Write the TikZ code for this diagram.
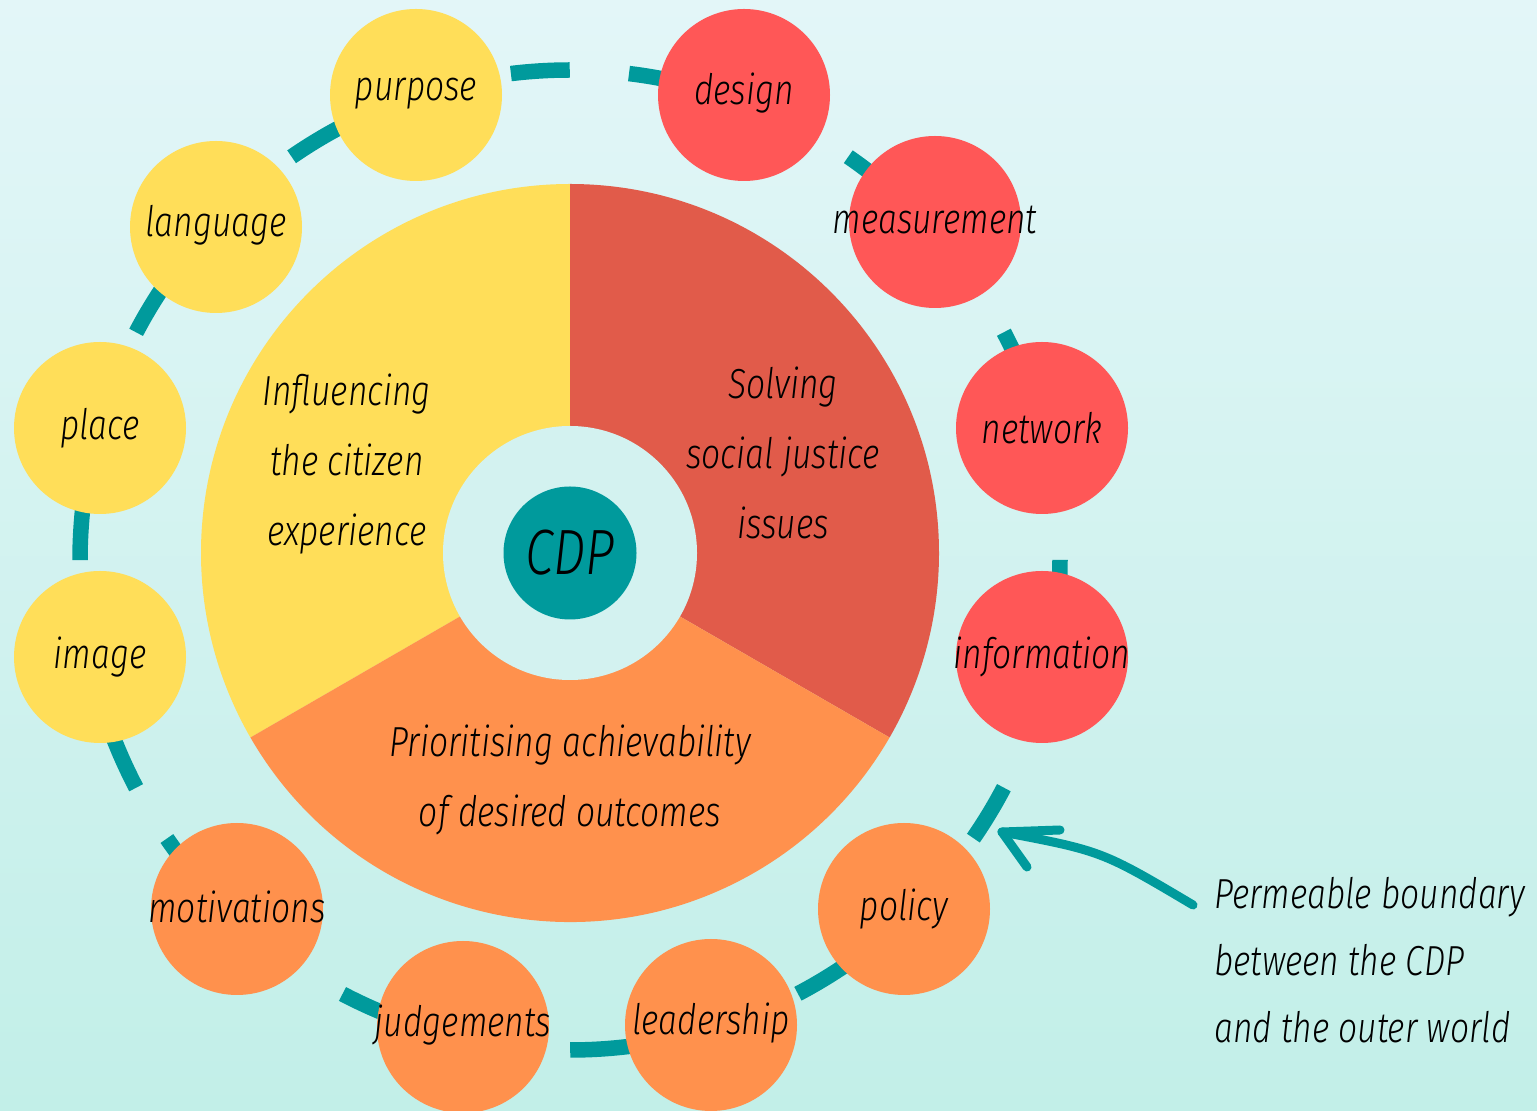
\documentclass[tikz,border=0pt]{standalone}
\usepackage{fontspec}
\IfFontExistsTF{Fira Sans Light}{\setmainfont{Fira Sans Light}[FakeStretch=0.8]}{\setmainfont{Fira Sans}[FakeStretch=0.8]}
\usetikzlibrary{calc}
\definecolor{cyel}{HTML}{FFDE59}
\definecolor{cred}{HTML}{FF5757}
\definecolor{cpie}{HTML}{E15B4A}
\definecolor{corg}{HTML}{FF914D}
\definecolor{cteal}{HTML}{009A9C}
\definecolor{cin}{HTML}{D3F2F0}
\definecolor{bgtop}{HTML}{E3F6F8}
\definecolor{bgbot}{HTML}{C2EFE8}
\newcommand\handfont{\fontsize{42}{70}\selectfont\itshape}
\newcommand\notefont{\fontsize{42}{67}\selectfont\itshape}
\begin{document}
\begin{tikzpicture}[x=1pt,y=1pt,
  bub/.style={circle,minimum size=172pt,inner sep=0pt},
  lbl/.style={font=\handfont,text=black,inner sep=0pt},
  ptext/.style={font=\handfont,align=center,text=black,inner sep=0pt},
  ringseg/.style={draw=cteal,line width=15.5pt,line cap=butt},
  arrowline/.style={draw=cteal,line width=9pt,line cap=round,line join=round}]
\useasboundingbox (0,0) rectangle (1537,1111);
\shade[top color=bgtop,bottom color=bgbot] (0,0) rectangle (1537,1111);
% dashed ring
\coordinate (rc) at (570,551);
\foreach \k in {0,...,25}{%
  \pgfmathsetmacro\sa{20.8+13.846*\k}%
  \pgfmathsetmacro\ea{\sa+6.9}%
  \draw[ringseg] ([shift={(\sa:490)}]rc) arc[start angle=\sa,end angle=\ea,radius=490];
}
% pie
\coordinate (pc) at (570,558);
\fill[cyel] (pc) -- ++(90:369) arc[start angle=90,end angle=210,radius=369] -- cycle;
\fill[cpie] (pc) -- ++(90:369) arc[start angle=90,end angle=-30,radius=369] -- cycle;
\fill[corg] (pc) -- ++(210:369) arc[start angle=210,end angle=330,radius=369] -- cycle;
\node[circle,fill=cin,minimum size=254pt,inner sep=0pt] (inner) at (pc) {};
\node[circle,fill=cteal,minimum size=133pt,inner sep=0pt,text=black,font=\fontsize{64}{70}\selectfont\itshape] (cdp) at (pc) {CDP};
\node[ptext] (infl) at (347,647) {Influencing\\the citizen\\experience};
\node[ptext] (solv) at (783,658) {Solving\\social justice\\issues};
\node[ptext] (prio) at (570,331) {Prioritising achievability\\of desired outcomes};
% bubbles
\node[bub,fill=cyel] (purpose) at (416,1016) {};
\node[bub,fill=cred] (design) at (744,1016) {};
\node[bub,fill=cyel] (language) at (216,884) {};
\node[bub,fill=cred] (measurement) at (935,889) {};
\node[bub,fill=cyel] (place) at (100,683) {};
\node[bub,fill=cred] (network) at (1042,683) {};
\node[bub,fill=cyel] (image) at (100,454) {};
\node[bub,fill=cred] (information) at (1042,454) {};
\node[bub,fill=corg] (motivations) at (237,202) {};
\node[bub,fill=corg] (policy) at (904,202) {};
\node[bub,fill=corg] (judgements) at (463,84) {};
\node[bub,fill=corg] (leadership) at (711,86) {};
\node[lbl] (purpose-l) at ([yshift=1]purpose) {purpose};
\node[lbl] (design-l) at ([yshift=2]design) {design};
\node[lbl] (language-l) at ([yshift=2]language) {language};
\node[lbl] (measurement-l) at ([yshift=2]measurement) {measurement};
\node[lbl] (place-l) at (place) {place};
\node[lbl] (network-l) at (network) {network};
\node[lbl] (image-l) at (image) {image};
\node[lbl] (information-l) at (information) {information};
\node[lbl] (motivations-l) at ([yshift=2]motivations) {motivations};
\node[lbl] (policy-l) at (policy) {policy};
\node[lbl] (judgements-l) at ([yshift=2]judgements) {judgements};
\node[lbl] (leadership-l) at ([yshift=2]leadership) {leadership};
% annotation arrow
\coordinate (atail) at (1193,206);
\coordinate (atip) at (1002,279);
\coordinate (ah1) at (1060,281);
\coordinate (ah2) at (1027,244);
\draw[arrowline] (atail) .. controls (1102,260) .. (atip);
\draw[arrowline] (ah1) -- (atip) -- (ah2);
\node[font=\notefont,align=left,anchor=west,inner sep=0pt,text=black] (note) at (1214,151) {Permeable boundary\\between the CDP\\and the outer world};
\end{tikzpicture}
\end{document}
